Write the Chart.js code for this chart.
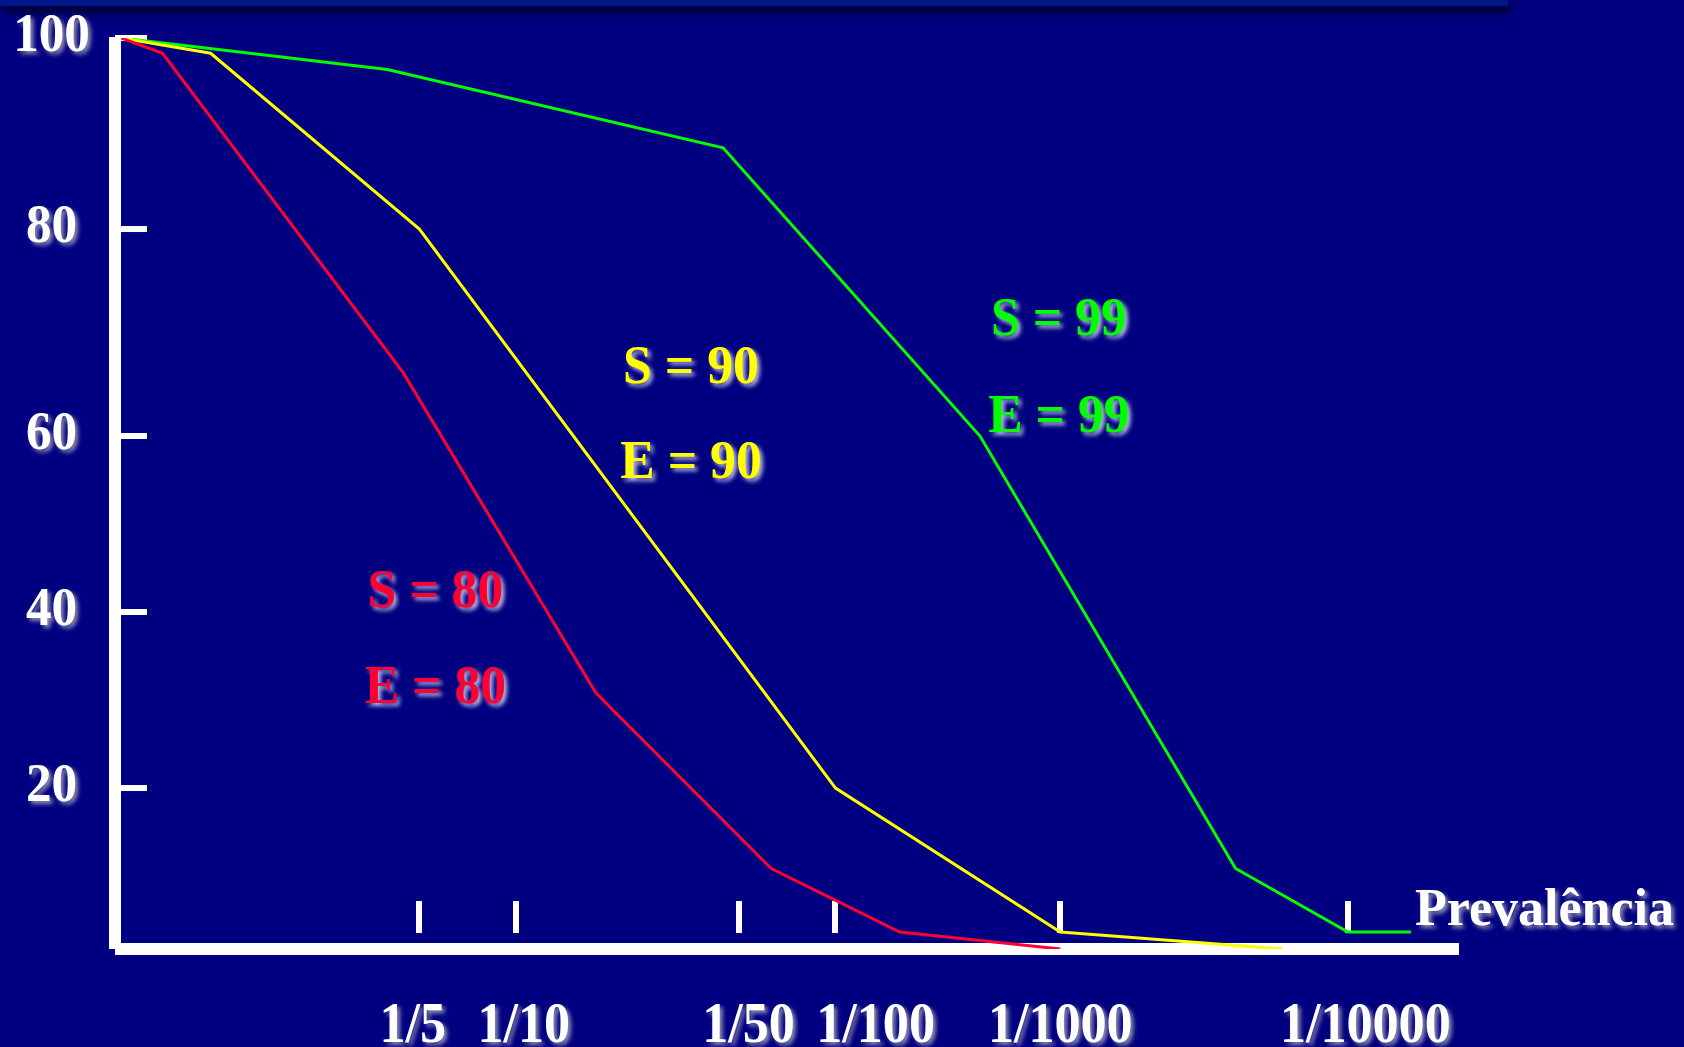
<!DOCTYPE html>
<html><head><meta charset="utf-8">
<script src="https://cdn.jsdelivr.net/npm/chart.js@4.4.0/dist/chart.umd.min.js"></script>
<style>
html,body{margin:0;padding:0;background:#000080;overflow:hidden;}
#wrap{position:relative;width:1684px;height:1047px;}
#band{position:absolute;left:0;top:0;width:1508px;height:6px;background:#00168a;box-shadow:3px 5px 8px rgba(0,0,0,0.95);z-index:0;}
canvas{position:absolute;left:0;top:0;z-index:1;}
</style></head><body>
<div id="wrap"><div id="band"></div><canvas id="c" width="1684" height="1047"></canvas></div>
<script>
// ---- data ----
const categories = ['1/5', '1/10', '1/50', '1/100', '1/1000', '1/10000'];
const categoryPositions = [22.3, 29.5, 46.2, 53.4, 70.2, 91.7];
const yTickValues = [20, 40, 60, 80, 100];

const redX = [0, 3.1, 21.1, 35.5, 48.6, 58.2, 70.2];
const redY = [100, 98.4, 66.1, 30.8, 10.0, 2.1, 0];
const yellowX = [0, 6.7, 22.3, 53.4, 70.2, 86.8];
const yellowY = [100, 98.4, 80, 20, 2.1, 0];
const greenX = [0, 19.9, 45.0, 64.2, 83.3, 91.7, 96.4];
const greenY = [100, 96.7, 88.5, 60, 10.0, 2.1, 2.1];

const seriesLabels = ['S = 80 / E = 80', 'S = 90 / E = 90', 'S = 99 / E = 99'];
const RED = '#ff0033', YELLOW = '#ffff00', GREEN = '#00ff00';

function pts(xs, ys) { return xs.map((x, i) => ({x: x, y: ys[i]})); }

// piecewise linear value axis (the drawn axis is not evenly spaced)
class PiecewiseScale extends Chart.LinearScale {
  _toDec(v) {
    const a = this.options.anchors;
    const vs = a.values, fs = a.fractions;
    let i = 0;
    while (i < vs.length - 2 && v > vs[i + 1]) i++;
    return fs[i] + (v - vs[i]) / (vs[i + 1] - vs[i]) * (fs[i + 1] - fs[i]);
  }
  _fromDec(d) {
    const a = this.options.anchors;
    const vs = a.values, fs = a.fractions;
    let i = 0;
    while (i < fs.length - 2 && d > fs[i + 1]) i++;
    return vs[i] + (d - fs[i]) / (fs[i + 1] - fs[i]) * (vs[i + 1] - vs[i]);
  }
  getPixelForValue(value) {
    if (value === null || value === undefined || isNaN(value)) return NaN;
    return this.getPixelForDecimal(this._toDec(value));
  }
  getValueForPixel(pixel) {
    return this._fromDec(this.getDecimalForPixel(pixel));
  }
}
PiecewiseScale.id = 'piecewise';
PiecewiseScale.defaults = Chart.LinearScale.defaults;
Chart.register(PiecewiseScale);

const FONT = '"Liberation Serif", "Times New Roman", Times, serif';
function drawText(ctx, txt, x, y, o) {
  ctx.save();
  ctx.translate(x, y);
  ctx.scale(o.sx || 1, o.sy || 1);
  ctx.font = 'bold ' + o.size + 'px ' + FONT;
  ctx.textAlign = o.align || 'center';
  ctx.textBaseline = 'alphabetic';
  ctx.shadowColor = o.shadow;
  ctx.shadowOffsetX = 3;
  ctx.shadowOffsetY = 3;
  ctx.shadowBlur = 4;
  ctx.fillStyle = o.color;
  ctx.fillText(txt, 0, 0);
  ctx.restore();
}

const slideAxes = {
  id: 'slideAxes',
  beforeDatasetsDraw(chart) {
    const ctx = chart.ctx, xs = chart.scales.x, ys = chart.scales.y;
    const ca = chart.chartArea;
    ctx.save();
    ctx.fillStyle = '#ffffff';
    const top = ys.getPixelForValue(100), bottom = ys.getPixelForValue(0);
    // y axis bar
    ctx.fillRect(ca.left - 12, top - 1, 12, bottom - top + 1);
    // x axis bar
    ctx.fillRect(ca.left - 6, bottom - 6, ca.right - ca.left + 6, 12);
    // y tick marks (inside)
    yTickValues.forEach(v => {
      const p = ys.getPixelForValue(v);
      const x0 = v === 100 ? ca.left - 6 : ca.left;
      ctx.fillRect(x0, p - 3, ca.left + 26 - x0, 6);
    });
    // x tick marks (floating above axis)
    categoryPositions.forEach(v => {
      const p = xs.getPixelForValue(v);
      ctx.fillRect(Math.round(p) - 3, bottom - 48, 6, 32);
    });
    ctx.restore();
  },
  afterDatasetsDraw(chart, args, opts) {
    const ctx = chart.ctx, xs = chart.scales.x, ys = chart.scales.y;
    const ca = chart.chartArea;
    const whiteShadow = 'rgba(150,150,180,0.95)';
    yTickValues.forEach(v => {
      drawText(ctx, String(v), 51.5, ys.getPixelForValue(v) + 13,
        {size: 55, sx: 0.93, color: '#ffffff', shadow: whiteShadow});
    });
    categories.forEach((c, i) => {
      drawText(ctx, c, xs.getPixelForValue(opts.labelAnchors[i]), ca.bottom + 93,
        {size: 56, sx: 0.93, color: '#ffffff', shadow: whiteShadow});
    });
    drawText(ctx, 'Prevalência', ca.right - 44, ca.bottom - 24,
      {size: 52, sx: 1, align: 'left', color: '#ffffff', shadow: whiteShadow});
    opts.notes.forEach(n => {
      drawText(ctx, n.text, xs.getPixelForValue(n.x), ys.getPixelForValue(n.y),
        {size: 55, sx: 0.94, color: n.color, shadow: 'rgba(205,205,240,0.9)'});
    });
  }
};

new Chart(document.getElementById('c'), {
  type: 'line',
  data: {
    datasets: [
      {label: seriesLabels[0], data: pts(redX, redY), borderColor: RED},
      {label: seriesLabels[1], data: pts(yellowX, yellowY), borderColor: YELLOW},
      {label: seriesLabels[2], data: pts(greenX, greenY), borderColor: GREEN}
    ]
  },
  options: {
    responsive: false,
    animation: false,
    devicePixelRatio: 1,
    layout: {padding: {left: 121, right: 225, top: 38, bottom: 98}},
    elements: {
      line: {borderWidth: 3, tension: 0, fill: false, borderJoinStyle: 'miter'},
      point: {radius: 0, hoverRadius: 0}
    },
    scales: {
      x: {type: 'linear', min: 0, max: 100, display: false},
      y: {type: 'piecewise', min: 0, max: 100, display: false,
          anchors: {values: [0, 20, 40, 60, 80, 100],
                    fractions: [0, 0.1767, 0.3699, 0.5631, 0.7903, 1]}}
    },
    plugins: {
      legend: {display: false},
      tooltip: {enabled: false},
      slideAxes: {
        labelAnchors: [21.8, 30.1, 46.9, 56.4, 70.2, 93.0],
        notes: [
          {text: 'S = 90', x: 42.6, y: 65.1, color: YELLOW},
          {text: 'E = 90', x: 42.6, y: 55.2, color: YELLOW},
          {text: 'S = 80', x: 23.5, y: 40.6, color: RED},
          {text: 'E = 80', x: 23.5, y: 29.7, color: RED},
          {text: 'S = 99', x: 70.1, y: 69.8, color: GREEN},
          {text: 'E = 99', x: 70.1, y: 60.4, color: GREEN}
        ]
      }
    }
  },
  plugins: [slideAxes]
});
</script>
</body></html>
